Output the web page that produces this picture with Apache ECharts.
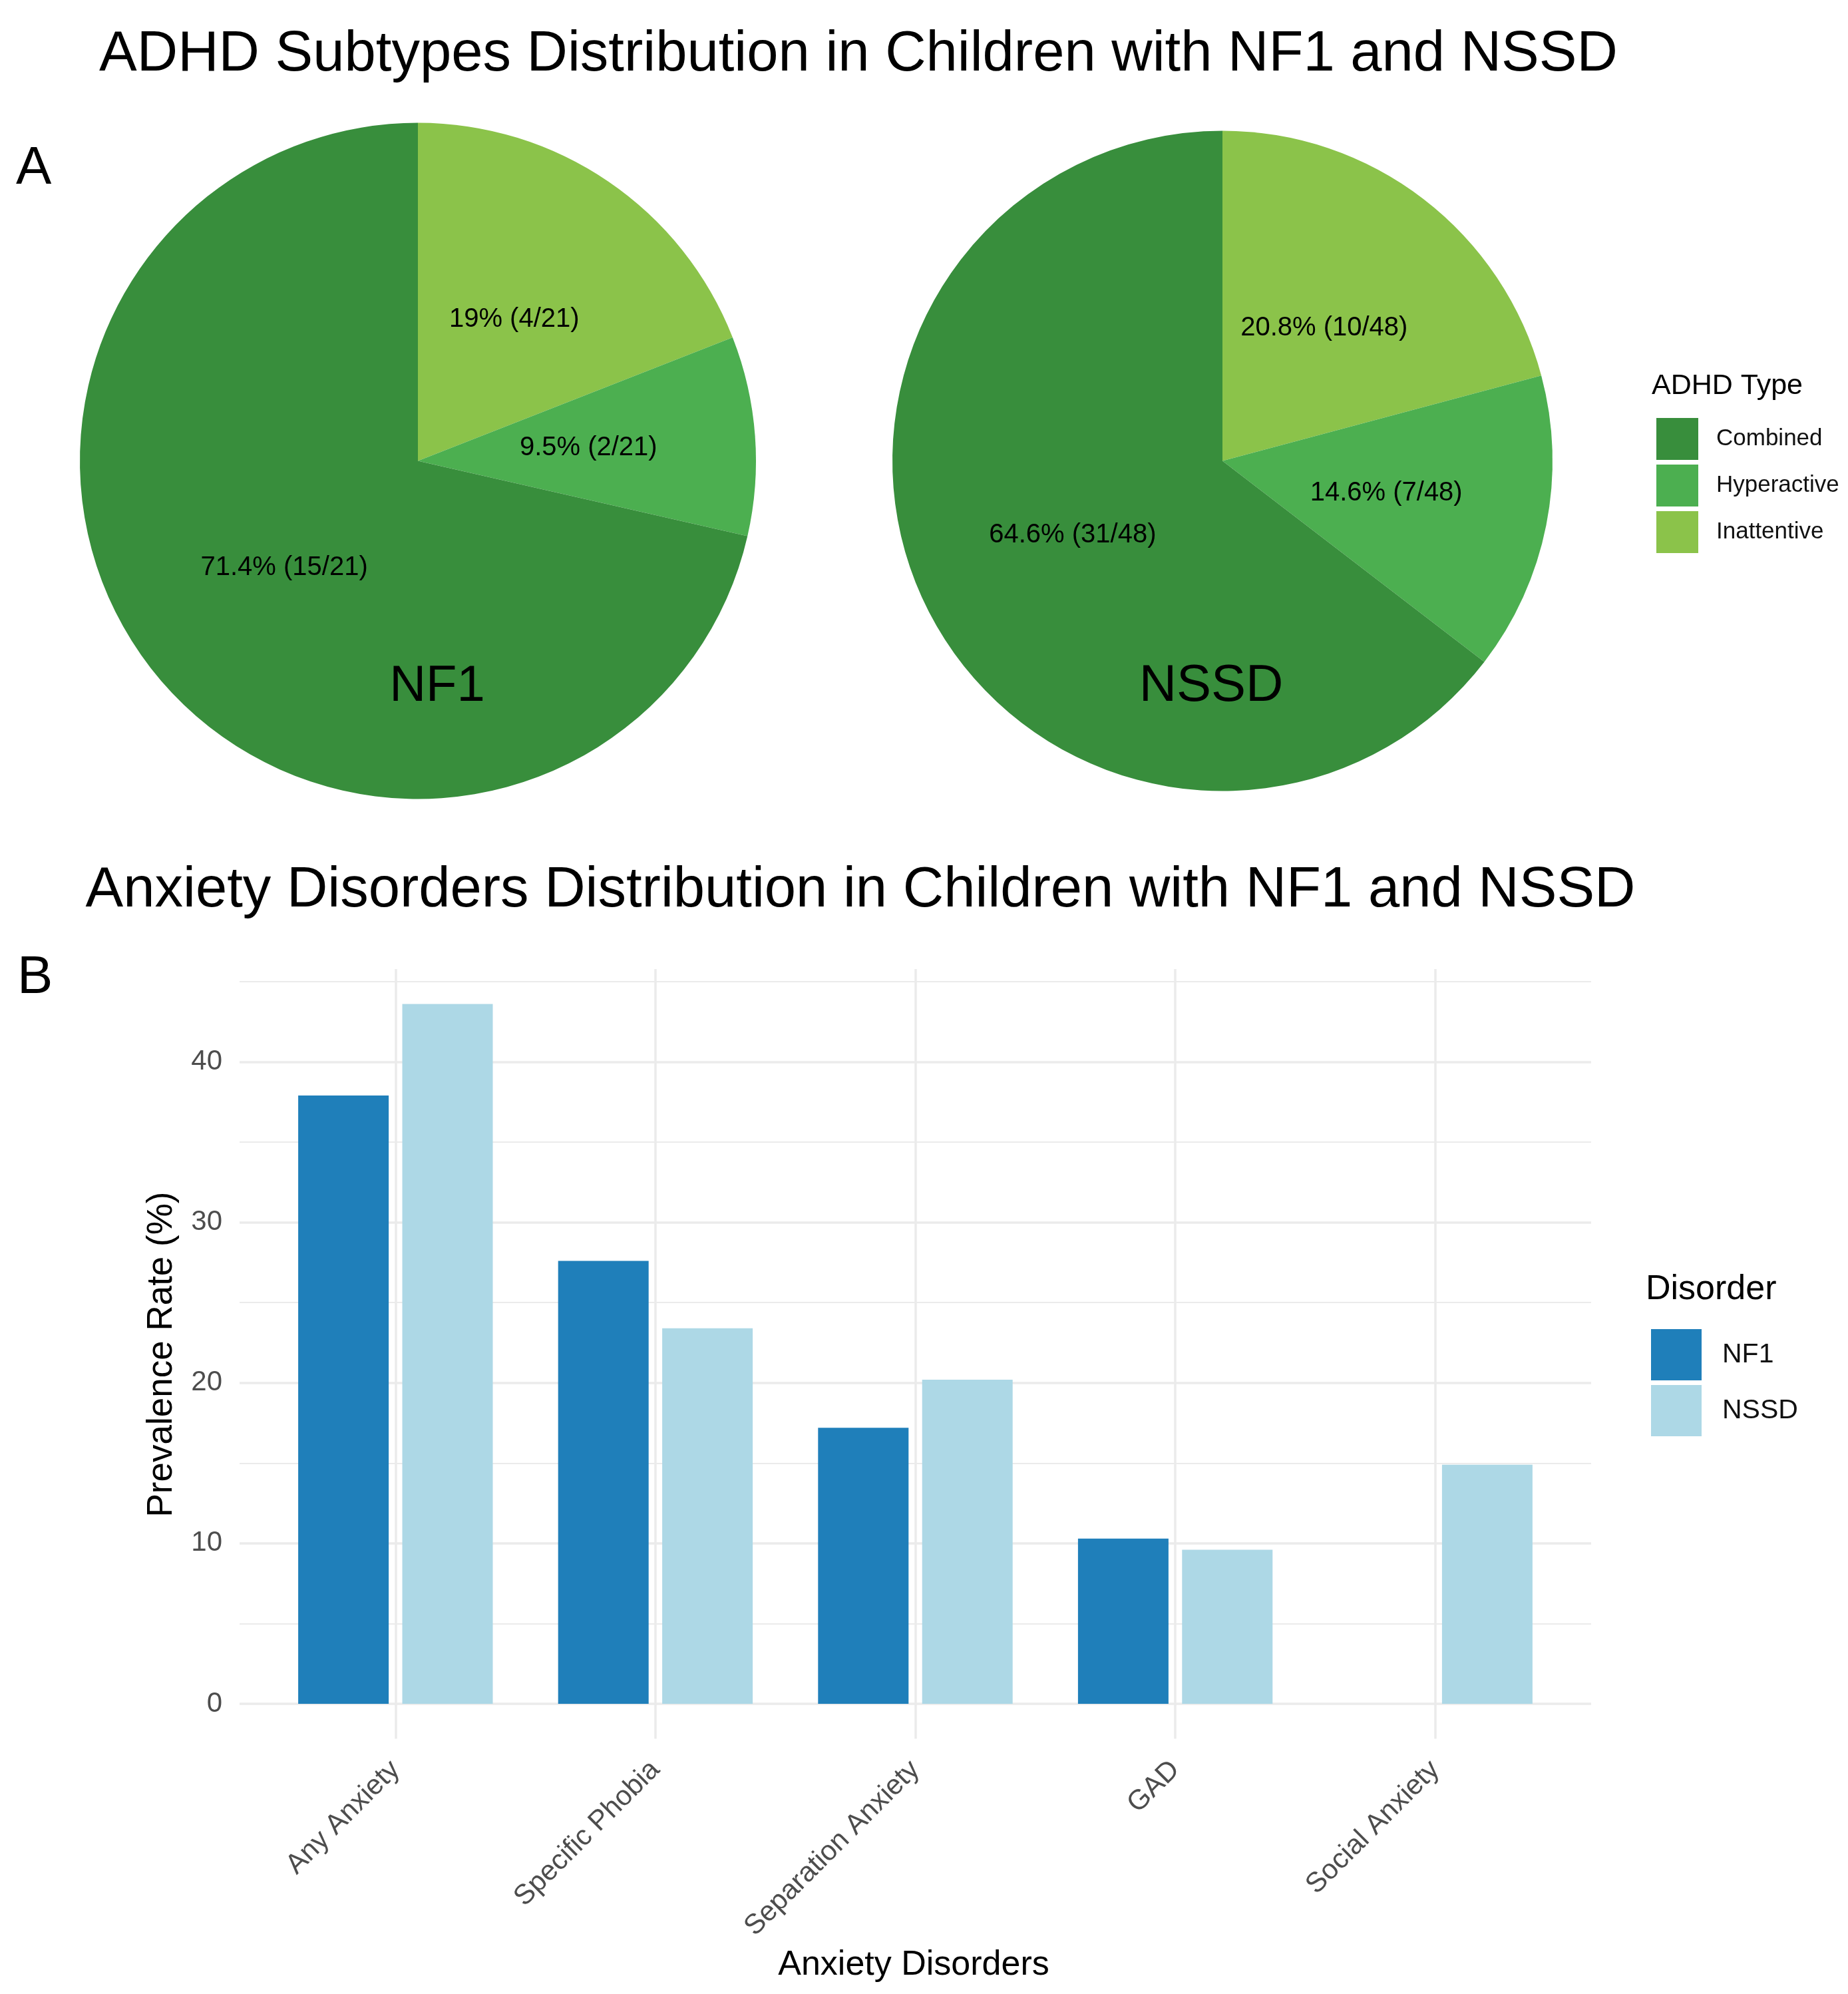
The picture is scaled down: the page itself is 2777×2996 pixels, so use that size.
<!DOCTYPE html>
<html>
<head>
<meta charset="utf-8">
<script src="https://cdn.jsdelivr.net/npm/echarts@6/dist/echarts.min.js"></script>
<style>html,body{margin:0;padding:0;background:#fff}#chart{width:2777px;height:2996px}</style>
</head>
<body>
<div id="chart"></div>
<script>
// ---- Data ----
const adhdLegendOrder = ['Combined', 'Hyperactive', 'Inattentive'];
const adhdSliceOrder = ['Inattentive', 'Hyperactive', 'Combined'];
const nf1AdhdCounts = [4, 2, 15];
const nssdAdhdCounts = [10, 7, 31];
const adhdColors = { Combined: '#388E3C', Hyperactive: '#4CAF50', Inattentive: '#8BC34A' };

const anxietyCategories = ['Any Anxiety', 'Specific Phobia', 'Separation Anxiety', 'GAD', 'Social Anxiety'];
const nf1Anxiety = [37.9, 27.6, 17.2, 10.3, 0];
const nssdAnxiety = [43.6, 23.4, 20.2, 9.6, 14.9];
const yMajorTicks = [0, 10, 20, 30, 40];
const yMinorTicks = [5, 15, 25, 35, 45];
const groupNames = ['NF1', 'NSSD'];
const groupColors = ['#1F7FBA', '#ADD8E6'];

// ---- Helpers ----
const FONT = 'Liberation Sans, Arial, sans-serif';
function sum(a) { return a.reduce((s, v) => s + v, 0); }
function pieData(counts) {
  return adhdSliceOrder.map((n, i) => ({ name: n, value: counts[i], itemStyle: { color: adhdColors[n] } }));
}
function pieLabel(counts) {
  const total = sum(counts);
  return p => (Math.round(p.value / total * 1000) / 10) + '% (' + p.value + '/' + total + ')';
}
function txt(text, x, y, size, align, rot) {
  return {
    type: 'text', x: x, y: y, rotation: rot || 0, z: 100,
    style: { text: text, fontSize: size, fontFamily: FONT, fill: '#000',
             align: align || 'center', verticalAlign: 'middle',
             textAlign: align || 'center', textVerticalAlign: 'middle' }
  };
}

const gridTop = 1456, gridBottomY = 2612.6;
const yMin = -2.18, yMax = 45.78;
const lineColor = '#EBEBEB';

const chart = echarts.init(document.getElementById('chart'), null, { renderer: 'canvas' });
chart.setOption({
  backgroundColor: '#ffffff',
  animation: false,
  graphic: [
    txt('ADHD Subtypes Distribution in Children with NF1 and NSSD', 1290, 83, 85),
    txt('Anxiety Disorders Distribution in Children with NF1 and NSSD', 1293, 1339, 85),
    txt('A', 24, 254, 80, 'left'),
    txt('B', 26, 1470, 80, 'left'),
    txt('NF1', 657, 1032, 76),
    txt('NSSD', 1820, 1031, 78),
    txt('ADHD Type', 2482, 580, 43, 'left'),
    txt('Disorder', 2473, 1938, 52, 'left'),
    txt('Prevalence Rate (%)', 243, 2035, 53, 'center', Math.PI / 2),
    txt('Anxiety Disorders', 1373, 2953, 52)
  ],
  legend: [
    {
      data: adhdLegendOrder, orient: 'vertical', left: 2484, top: 623,
      icon: 'rect', itemWidth: 63, itemHeight: 63, itemGap: 7,
      selectedMode: false,
      textStyle: { fontSize: 35, fontFamily: FONT, color: '#111', padding: [0, 0, 0, 22] }
    },
    {
      data: groupNames, orient: 'vertical', left: 2476, top: 1992,
      icon: 'rect', itemWidth: 76, itemHeight: 77, itemGap: 7,
      selectedMode: false,
      textStyle: { fontSize: 41, fontFamily: FONT, color: '#111', padding: [0, 0, 0, 26] }
    }
  ],
  grid: [
    { left: 360, right: 2777 - 2391, top: gridTop, bottom: 2996 - gridBottomY, containLabel: false },
    { left: 399, right: 2777 - (399 + 5 * 390.6), top: gridTop, bottom: 2996 - gridBottomY, containLabel: false }
  ],
  xAxis: [
    {
      type: 'value', gridIndex: 0, min: -0.6, max: 4.6,
      axisLine: { show: false },
      axisTick: { show: false, customValues: [0, 1, 2, 3, 4] },
      axisLabel: { show: false, customValues: [0, 1, 2, 3, 4] },
      splitLine: { show: true, lineStyle: { color: lineColor, width: 3.5 } }
    },
    {
      type: 'category', gridIndex: 1, data: anxietyCategories,
      axisLine: { show: false }, axisTick: { show: false }, splitLine: { show: false },
      axisLabel: { rotate: 45, margin: 40, fontSize: 42, fontFamily: FONT, color: '#4D4D4D', interval: 0 }
    }
  ],
  yAxis: [
    {
      type: 'value', gridIndex: 0, min: yMin, max: yMax,
      axisLine: { show: false },
      axisTick: { show: false, customValues: yMajorTicks },
      axisLabel: { show: true, customValues: yMajorTicks, margin: 26, fontSize: 42, fontFamily: FONT, color: '#4D4D4D' },
      splitLine: { show: true, lineStyle: { color: lineColor, width: 3.5 } }
    },
    {
      type: 'value', gridIndex: 0, min: yMin, max: yMax, position: 'left',
      axisLine: { show: false },
      axisTick: { show: false, customValues: yMinorTicks },
      axisLabel: { show: false, customValues: yMinorTicks },
      splitLine: { show: true, lineStyle: { color: lineColor, width: 1.8 } }
    },
    {
      type: 'value', gridIndex: 1, min: yMin, max: yMax,
      axisLine: { show: false }, axisTick: { show: false },
      axisLabel: { show: false }, splitLine: { show: false }
    }
  ],
  series: [
    {
      type: 'pie', name: 'NF1 ADHD', center: [628, 692.5], radius: [0, 508],
      startAngle: 90, clockwise: true, silent: true,
      data: pieData(nf1AdhdCounts),
      itemStyle: { borderWidth: 0 },
      label: { show: true, position: 'inside', formatter: pieLabel(nf1AdhdCounts), fontSize: 40, fontFamily: FONT, color: '#000', textBorderWidth: 0 },
      labelLine: { show: false }
    },
    {
      type: 'pie', name: 'NSSD ADHD', center: [1837, 692.5], radius: [0, 496],
      startAngle: 90, clockwise: true, silent: true,
      data: pieData(nssdAdhdCounts),
      itemStyle: { borderWidth: 0 },
      label: { show: true, position: 'inside', formatter: pieLabel(nssdAdhdCounts), fontSize: 40, fontFamily: FONT, color: '#000', textBorderWidth: 0 },
      labelLine: { show: false }
    },
    {
      type: 'line', xAxisIndex: 0, yAxisIndex: 0, data: [], silent: true
    },
    {
      type: 'bar', name: groupNames[0], xAxisIndex: 1, yAxisIndex: 2,
      data: nf1Anxiety, barWidth: 136, barGap: '15%',
      itemStyle: { color: groupColors[0] }, silent: true
    },
    {
      type: 'bar', name: groupNames[1], xAxisIndex: 1, yAxisIndex: 2,
      data: nssdAnxiety, barWidth: 136, barGap: '15%',
      itemStyle: { color: groupColors[1] }, silent: true
    }
  ]
});
</script>
</body>
</html>
